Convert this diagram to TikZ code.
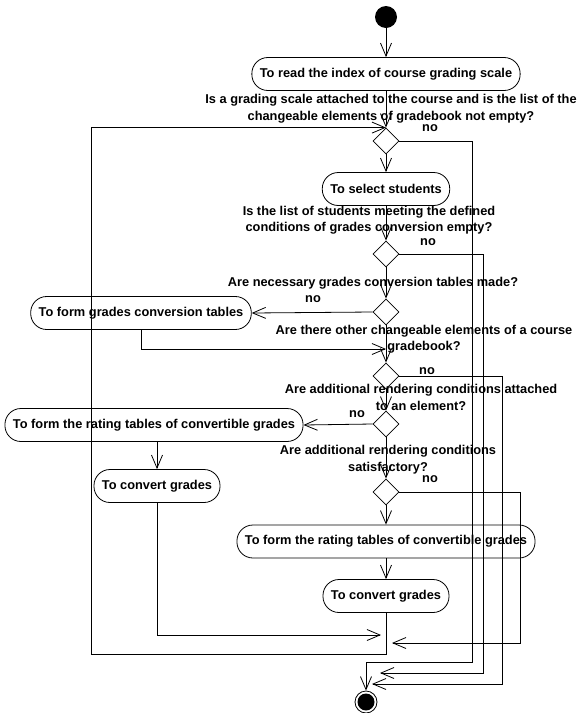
\documentclass[tikz,border=0pt]{standalone}
\usepackage{fontspec}
\setmainfont{Liberation Sans}
\usetikzlibrary{arrows.meta,shapes.geometric}

\begin{document}
\begin{tikzpicture}[x=1pt,y=-1pt,line width=0.8pt,
every node/.style={font=\fontsize{12.8}{16.5}\selectfont\bfseries},
act/.style={draw,rectangle,rounded corners=16pt,minimum height=33pt,inner xsep=8pt},
dec/.style={draw,diamond,minimum width=26pt,minimum height=26pt,inner sep=0pt},
quest/.style={align=center,inner sep=0pt},
flow/.style={-{Straight Barb[length=13pt,width=11pt]}}]
\useasboundingbox (0,0) rectangle (583,713);
% main column
\node[circle,fill=black,minimum size=22pt,inner sep=0pt] (S) at (386,17) {};
\node[act] (A1) at (386,74) {To read the index of course grading scale};
\node[quest] (Q1) at (391,108.5) {Is a grading scale attached to the course and is the list of the\\changeable elements of gradebook not empty?};
\node[dec] (D1) at (386,141) {};
\node[act] (A2) at (386,189) {To select students};
\node[quest] (Q2) at (369,220) {Is the list of students meeting the defined\\conditions of grades conversion empty?};
\node[dec] (D2) at (386,254) {};
\node[quest] (Q3) at (373,283) {Are necessary grades conversion tables made?};
\node[dec] (D3) at (386,312) {};
\node[quest] (Q4) at (424,339) {Are there other changeable elements of a course\\gradebook?};
\node[dec] (D4) at (386,376) {};
\node[quest] (Q5) at (421,397.5) {Are additional rendering conditions attached\\to an element?};
\node[dec] (D5) at (386,424) {};
\node[quest] (Q6) at (388,459.5) {Are additional rendering conditions\\satisfactory?};
\node[dec] (D6) at (386,492) {};
\node[act] (A6) at (386,541.5) {To form the rating tables of convertible grades};
\node[act] (A7) at (386,596) {To convert grades};
% left column
\node[act] (A3) at (141,313) {To form grades conversion tables};
\node[act] (A4) at (154,425) {To form the rating tables of convertible grades};
\node[act] (A5) at (157,486) {To convert grades};
% final state
\node[circle,draw,minimum size=22pt,inner sep=0pt] (E) at (366,702) {};
\node[circle,fill=black,minimum size=17pt,inner sep=0pt] (Ein) at (E) {};
% no labels
\node (N1) at (430,128) {no};
\node (N2) at (428,242) {no};
\node (N3) at (313,299) {no};
\node (N4) at (427,371) {no};
\node (N5) at (357,414) {no};
\node (N6) at (430,479) {no};
% bends
\coordinate (LB) at (91,654);
\coordinate (J4) at (386,349);
\coordinate (J7) at (381,635);
\coordinate (R6) at (520,643);
\coordinate (J8) at (392,643);
\coordinate (R1) at (472,662);
\coordinate (R2) at (483,673);
\coordinate (J2) at (380,673);
\coordinate (R4) at (502,684);
\coordinate (J3) at (372,684);

\draw[flow] (S)--(A1);
\draw[flow] (A1)--(D1);
\draw[flow] (D1)--(A2);
\draw[flow] (A2)--(D2);
\draw[flow] (D2)--(D3);
\draw[flow] (D3)--(D4);
\draw[flow] (D4)--(D5);
\draw[flow] (D5)--(D6);
\draw[flow] (D6)--(A6);
\draw[flow] (A6)--(A7);
\draw[flow] (D3.west)--(A3.east);
\draw[flow] (A3.south) |- (J4);
\draw[flow] (D5.west)--(A4.east);
\draw[flow] (A5 |- A4.south)--(A5);
\draw[flow] (A5.south) |- (J7);
\draw[flow] (A7.south) |- (LB) |- (D1.north);
\draw[flow] (D6.east) -| (R6) -- (J8);
\draw[flow] (D1.east) -| (R1) -| (E.north);
\draw[flow] (D2.east) -| (R2) -- (J2);
\draw[flow] (D4.east) -| (R4) -- (J3);
\end{tikzpicture}
\end{document}
